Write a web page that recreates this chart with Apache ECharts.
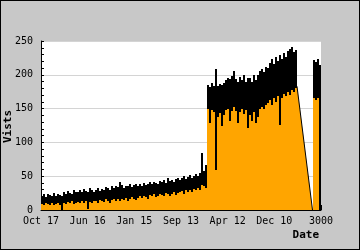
<!DOCTYPE html>
<html><head><meta charset="utf-8">
<script src="https://cdn.jsdelivr.net/npm/echarts@6/dist/echarts.min.js"></script>
<style>
html,body{margin:0;padding:0;background:#c8c8c8;}
#wrap{width:360px;height:250px;box-sizing:border-box;border:1px solid #000;background:#c8c8c8;}
#c{width:358px;height:248px;}
</style></head>
<body><div id="wrap"><div id="c"></div></div>
<script>
// tick labels of the date axis (as printed)
var xLabels = ['Oct 17','Jun 16','Jan 15','Sep 13','Apr 12','Dec 10','3000'];
var yTicks = [0,50,100,150,200,250];
// per-column visits: daily maximum (hi) and minimum (lo); null = no data
var hiVals = [
 21,23,19,24,22,20,25,21,23,22,
 20,26,24,28,25,23,29,27,26,30,
 27,31,28,26,32,29,27,30,33,28,
 31,29,34,32,30,35,33,36,34,41,
 37,33,36,35,38,34,37,39,35,38,
 36,40,37,39,41,38,42,40,39,43,
 41,44,40,47,43,45,42,46,48,44,
 47,50,46,49,52,48,51,53,50,55,
 84,58,66,185,182,188,184,208,183,186,
 185,188,192,196,194,198,205,194,190,197,
 192,199,189,196,196,190,199,193,200,206,
 209,204,212,210,218,224,216,227,221,230,
 224,232,227,235,238,241,233,236,
 null,null,null,null,null,null,null,null,
 222,219,224,214
];
var loVals = [
 9,8,10,9,7,10,8,9,10,8,
 0,11,9,12,10,13,9,11,12,10,
 13,11,14,2,12,10,14,13,11,15,
 13,12,16,14,11,15,17,13,16,14,
 17,15,18,13,16,19,17,15,18,20,
 18,21,19,17,22,20,23,19,21,24,
 22,20,25,23,21,24,26,22,25,27,
 28,24,29,26,30,27,31,29,33,30,
 37,35,33,150,128,148,145,59,138,144,
 125,141,148,150,131,147,152,146,128,145,
 150,142,148,122,140,132,145,128,138,150,
 152,149,156,158,162,155,166,160,168,126,
 166,172,168,175,170,178,174,180,
 null,null,null,null,null,null,null,null,
 165,162,166,0
];
// gap at the end: the line falls from the last day to zero
var dropCols = [128, 135.75];
var dropVals = [183, 0];
var nCols = 140;

function colX(c){ return c * (xLabels.length - 1) / nCols; }
var bandData = [];
for (var i = 0; i < hiVals.length; i++) {
  if (hiVals[i] === null) continue;
  bandData.push([colX(i), loVals[i], hiVals[i], colX(i + 1)]);
}
var dropData = [];
for (var j = 0; j < dropCols.length; j++) dropData.push([colX(dropCols[j]), dropVals[j]]);

function renderBand(params, api) {
  var x0 = api.value(0), lo = api.value(1), hi = api.value(2), x1 = api.value(3);
  var pBase = api.coord([x0, 0]);
  var pLo = api.coord([x1, lo]);
  var pHi = api.coord([x1, hi]);
  var left = Math.round(pBase[0]);
  var w = Math.round(pLo[0]) - left;
  var yBase = Math.round(pBase[1]);
  var yLo = Math.round(pLo[1]);
  var yHi = Math.round(pHi[1]);
  return {
    type:'group',
    children:[
      {type:'rect', shape:{x:left, y:yLo, width:w, height:yBase - yLo}, style:{fill:'#ffa500'}},
      {type:'rect', shape:{x:left, y:yHi, width:w, height:Math.max(1, yLo - yHi)}, style:{fill:'#000'}}
    ]
  };
}

var font = 'DejaVu Sans Mono';
var chart = echarts.init(document.getElementById('c'), null, {renderer:'canvas'});
chart.setOption({
  animation:false,
  backgroundColor:'#c8c8c8',
  grid:{left:40, top:40, right:38, bottom:39, show:true, backgroundColor:'#ffffff', borderWidth:0},
  xAxis:{
    type:'value', min:0, max:xLabels.length-1, interval:1,
    axisLine:{show:true, lineStyle:{color:'#000', width:1}},
    axisTick:{show:true, inside:true, length:5, lineStyle:{color:'#000'}},
    splitLine:{show:false},
    axisLabel:{show:true, showMinLabel:true, showMaxLabel:true, margin:6, color:'#000', fontFamily:font, fontSize:10,
      formatter:function(v){ return xLabels[Math.round(v)]; }}
  },
  yAxis:{
    type:'value', min:yTicks[0], max:yTicks[yTicks.length-1], interval:50,
    axisLine:{show:true, lineStyle:{color:'#000', width:1}},
    axisTick:{show:true, inside:true, length:3, lineStyle:{color:'#000'}},
    minorTick:{show:true, splitNumber:5, length:3, lineStyle:{color:'#000'}},
    splitLine:{show:true, lineStyle:{color:'#d4d4d4', width:1}},
    axisLabel:{margin:8, color:'#000', fontFamily:font, fontSize:10}
  },
  graphic:[
    {type:'text', left:2, top:109, rotation:Math.PI/2, style:{text:'Vists', fill:'#000', font:'bold 11px "DejaVu Sans Mono"'}},
    {type:'text', right:40, top:229, style:{text:'Date', fill:'#000', font:'bold 11px "DejaVu Sans Mono"'}}
  ],
  series:[
    {
      type:'custom', data:bandData, renderItem:renderBand,
      encode:{x:[0,3], y:[1,2]}, clip:true, z:2
    },
    {
      type:'line', data:dropData, showSymbol:false, symbol:'none',
      lineStyle:{color:'#000', width:1},
      areaStyle:{color:'#ffa500', opacity:1}, z:3
    }
  ]
});
</script></body></html>
